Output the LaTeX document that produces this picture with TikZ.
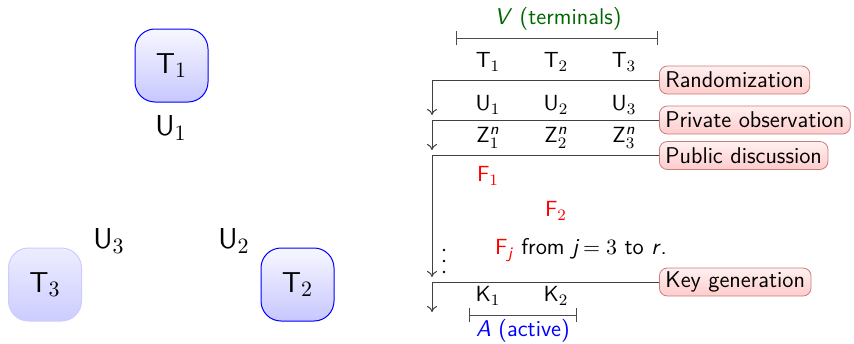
\documentclass[tikz,border=0pt]{standalone}
\usepackage{amsmath}
\usetikzlibrary{arrows.meta}
\newcommand{\isf}[1]{\textsf{\textit{#1}}}
\begin{document}
\begin{tikzpicture}[x=0.5pt,y=-0.5pt,
  every node/.style={font=\sffamily\fontsize{11.4}{13}\selectfont, inner sep=0pt},
  term/.style={draw=blue, line width=0.5pt, rounded corners=10pt, minimum width=36.5pt, minimum height=36.5pt,
     top color=blue!3, bottom color=blue!22, font=\sffamily\fontsize{15}{17}\selectfont},
  fadeterm/.style={term, draw=blue!20, top color=blue!7, bottom color=blue!20},
  lbl/.style={font=\sffamily\fontsize{15}{17}\selectfont},
  phase/.style={draw={rgb,255:red,200;green,125;blue,125}, line width=0.4pt, rounded corners=4pt,
     top color=red!6, bottom color=red!20, anchor=west, inner xsep=3pt, minimum height=14pt},
  flow/.style={draw=black!75, line width=0.5pt},
  arr/.style={flow, -{To[length=3pt,width=5pt]}},
  brk/.style={draw=black!70, line width=0.5pt, {Bar[width=7pt]}-{Bar[width=7pt]}},
  dot/.style={circle, fill=black, minimum size=1.3pt, inner sep=0pt}
]
\useasboundingbox (0,0) rectangle (854,343);
% left diagram
\node[term] (T1) at (171.5,65.5) {$\mathsf{T}_1$};
\node[term] (T2) at (297.5,284.5) {$\mathsf{T}_2$};
\node[fadeterm] (T3) at (45,284.5) {$\mathsf{T}_3$};
\node[lbl] (U1) at (171,128) {$\mathsf{U}_1$};
\node[lbl] (U2) at (234,241) {$\mathsf{U}_2$};
\node[lbl] (U3) at (109,241) {$\mathsf{U}_3$};
% right diagram: terminals
\node[text=green!40!black] (V) at (558,19) {\isf{V} (terminals)};
\coordinate (Va) at (456,38);
\coordinate (Vb) at (658,38);
\draw[brk] (Va) -- (Vb);
\node (r1) at (488,62) {$\mathsf{T}_1$};
\node (r2) at (556,62) {$\mathsf{T}_2$};
\node (r3) at (624,62) {$\mathsf{T}_3$};
\node (u1) at (488,105) {$\mathsf{U}_1$};
\node (u2) at (556,105) {$\mathsf{U}_2$};
\node (u3) at (624,105) {$\mathsf{U}_3$};
\node (z1) at (488,138) {$\mathsf{Z}_1^{\isf{n}}$};
\node (z2) at (556,138) {$\mathsf{Z}_2^{\isf{n}}$};
\node (z3) at (624,138) {$\mathsf{Z}_3^{\isf{n}}$};
\node[text=red] (f1) at (488,176) {$\mathsf{F}_1$};
\node[text=red] (f2) at (556,211) {$\mathsf{F}_2$};
\node (fj) at (581,250) {\textcolor{red}{$\mathsf{F}_{\isf{j}}$} from \isf{j}\,$=3$ to \isf{r}.};
\node[dot] (d1) at (444,250) {};
\node[dot] (d2) at (444,261) {};
\node[dot] (d3) at (444,272) {};
\node (k1) at (488,296) {$\mathsf{K}_1$};
\node (k2) at (556,296) {$\mathsf{K}_2$};
\coordinate (Aa) at (469,315);
\coordinate (Ab) at (577,315);
\draw[brk] (Aa) -- (Ab);
\node[text=blue] (A) at (523,331) {\isf{A} (active)};
% phases
\node[phase] (rand) at (659,80) {Randomization};
\node[phase] (priv) at (659,120) {Private observation};
\node[phase] (pub) at (659,155.5) {Public discussion};
\node[phase] (key) at (659,282) {Key generation};
\coordinate (c1) at (432,80);  \coordinate (e1) at (432,115);
\coordinate (c2) at (432,120); \coordinate (e2) at (432,150);
\coordinate (c3) at (432,155.5); \coordinate (e3) at (432,277);
\coordinate (c4) at (432,282); \coordinate (e4) at (432,312);
\draw[arr] (rand.west) -- (c1) -- (e1);
\draw[arr] (priv.west) -- (c2) -- (e2);
\draw[arr] (pub.west) -- (c3) -- (e3);
\draw[arr] (key.west) -- (c4) -- (e4);
\end{tikzpicture}
\end{document}
